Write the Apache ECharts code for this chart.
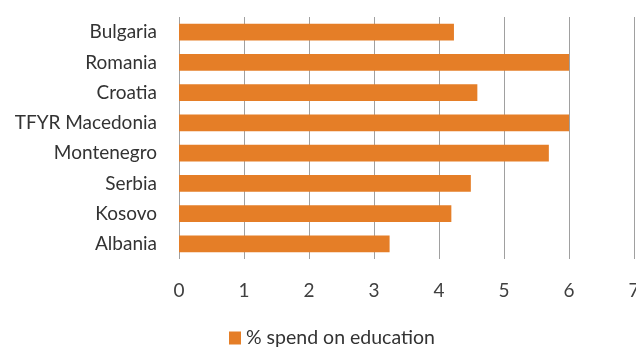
<!DOCTYPE html>
<html>
<head>
<meta charset="utf-8">
<script src="https://cdn.jsdelivr.net/npm/echarts@6/dist/echarts.min.js"></script>
<style>
  html, body { margin: 0; padding: 0; background: #fff; }
  #chart { width: 636px; height: 347px; }
</style>
</head>
<body>
<div id="chart"></div>
<script>
// Countries, listed top to bottom
const countries = ['Bulgaria', 'Romania', 'Croatia', 'TFYR Macedonia', 'Montenegro', 'Serbia', 'Kosovo', 'Albania'];
// Public spending on education, % of GDP
const spend = [4.23, 6.0, 4.59, 6.0, 5.69, 4.49, 4.19, 3.24];
const seriesName = '% spend on education';
const xTicks = [0, 1, 2, 3, 4, 5, 6, 7];

const chart = echarts.init(document.getElementById('chart'));
const font = 'Lato, "Open Sans", sans-serif';

chart.setOption({
  animation: false,
  grid: { left: 179, right: 2, top: 17, height: 242, containLabel: false, outerBoundsMode: 'none' },
  legend: {
    data: [seriesName],
    top: 326,
    left: 229,
    padding: 0,
    itemWidth: 12,
    itemHeight: 13,
    itemGap: 6,
    textStyle: { fontFamily: font, fontSize: 19.5, color: '#333', lineHeight: 24 },
    icon: 'rect'
  },
  xAxis: {
    type: 'value',
    min: xTicks[0],
    max: xTicks[xTicks.length - 1],
    interval: 1,
    axisLine: { show: false },
    axisTick: { show: false },
    axisLabel: { fontFamily: font, fontSize: 19, color: '#404040', margin: 22 },
    splitLine: { show: true, lineStyle: { color: '#a0a0a0', width: 1 } }
  },
  yAxis: {
    type: 'category',
    data: countries,
    inverse: true,
    axisLine: { show: false },
    axisTick: { show: false },
    axisLabel: { fontFamily: font, fontSize: 19, color: '#333', margin: 22 }
  },
  series: [{
    name: seriesName,
    type: 'bar',
    data: spend,
    barWidth: '56%',
    itemStyle: { color: '#E57E27' }
  }]
});
</script>
</body>
</html>
